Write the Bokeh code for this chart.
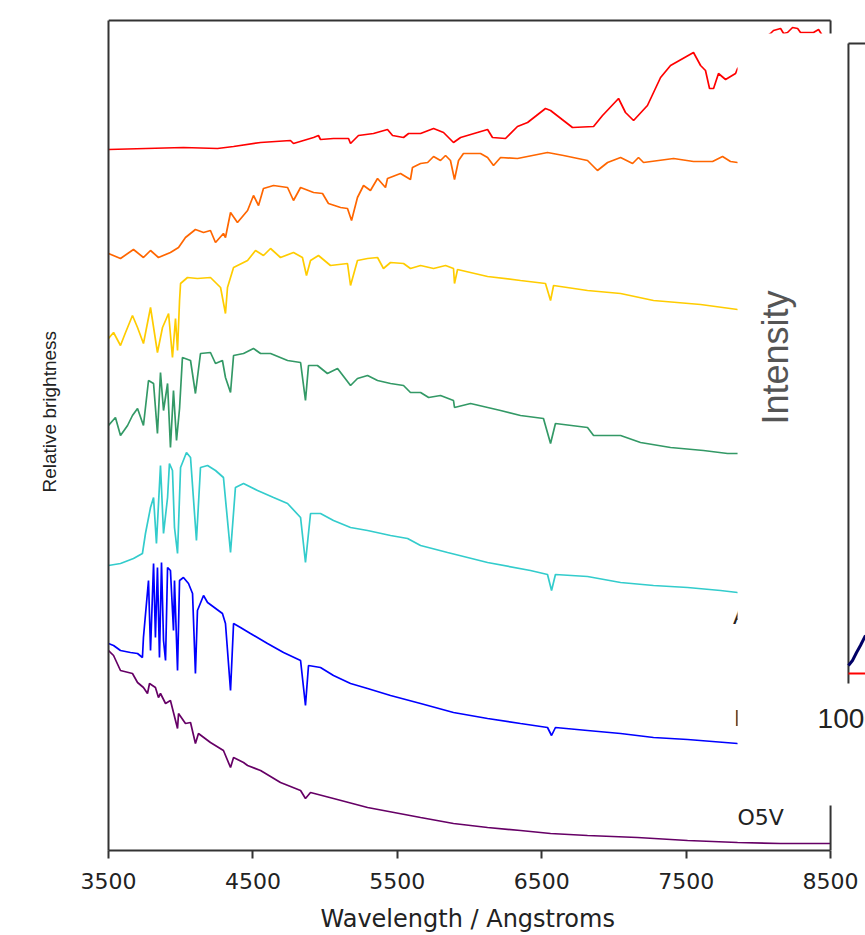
from bokeh.plotting import figure
from bokeh.models import FixedTicker, Range1d, Title
from bokeh.core.properties import value
from bokeh.embed import file_html
from bokeh.resources import INLINE

# ---------------- data: wavelength (Angstrom) / relative brightness ----------------
m_wl = [3500, 4019, 4255, 4366, 4553, 4760, 4781, 4920, 4954, 4968, 5058, 5162, 5176, 5231, 5335,
        5432, 5467, 5543, 5578, 5661, 5751, 5820, 5889, 5938, 6125, 6159, 6249, 6332, 6402, 6526,
        6561, 6713, 6859, 6921, 7032, 7080, 7136, 7232, 7323, 7392, 7551, 7600, 7634, 7662, 7690,
        7724, 7773, 7842, 7856, 7946, 8015, 8084, 8105, 8154, 8175, 8202, 8237, 8272, 8292, 8382,
        8417, 8465, 8500]
m_fl = [7.01, 7.03, 7.02, 7.04, 7.08, 7.10, 7.07, 7.13, 7.15, 7.11, 7.12, 7.12, 7.07, 7.15, 7.17,
        7.21, 7.15, 7.13, 7.17, 7.17, 7.22, 7.18, 7.08, 7.13, 7.21, 7.13, 7.12, 7.24, 7.28, 7.42,
        7.40, 7.23, 7.24, 7.35, 7.52, 7.38, 7.30, 7.45, 7.73, 7.85, 7.98, 7.85, 7.80, 7.62, 7.62,
        7.77, 7.71, 7.77, 7.82, 7.95, 8.10, 8.17, 8.20, 8.22, 8.17, 8.18, 8.23, 8.22, 8.18, 8.18,
        8.21, 8.10, 8.12]

k_wl = [3500, 3583, 3673, 3742, 3791, 3846, 3929, 3985, 4033, 4102, 4158, 4206, 4241, 4296, 4310,
        4345, 4393, 4463, 4504, 4539, 4573, 4643, 4740, 4781, 4830, 4920, 4982, 5023, 5107, 5155,
        5183, 5224, 5266, 5314, 5363, 5418, 5432, 5522, 5591, 5605, 5661, 5710, 5751, 5799, 5834,
        5868, 5896, 5924, 5958, 6076, 6125, 6166, 6215, 6332, 6540, 6651, 6817, 6886, 6956, 7046,
        7129, 7170, 7205, 7413, 7551, 7683, 7752, 7807, 7856, 8200, 8500]
k_fl = [5.97, 5.92, 6.01, 5.93, 6.00, 5.93, 5.98, 6.03, 6.13, 6.21, 6.18, 6.20, 6.08, 6.17, 6.13,
        6.38, 6.28, 6.40, 6.55, 6.45, 6.62, 6.65, 6.63, 6.50, 6.63, 6.58, 6.57, 6.47, 6.43, 6.42,
        6.30, 6.53, 6.65, 6.60, 6.72, 6.63, 6.72, 6.77, 6.71, 6.83, 6.87, 6.88, 6.94, 6.90, 6.95,
        6.90, 6.71, 6.90, 6.97, 6.97, 6.93, 6.85, 6.93, 6.92, 6.98, 6.95, 6.90, 6.80, 6.88, 6.93,
        6.87, 6.93, 6.88, 6.92, 6.89, 6.89, 6.94, 6.89, 6.88, 6.86, 6.85]

g_wl = [3500, 3535, 3583, 3618, 3666, 3701, 3742, 3791, 3839, 3874, 3916, 3943, 3964, 3978, 3992,
        3999, 4047, 4116, 4206, 4276, 4310, 4324, 4366, 4463, 4518, 4573, 4622, 4691, 4781, 4843,
        4871, 4899, 4954, 5037, 5155, 5176, 5224, 5294, 5363, 5404, 5453, 5543, 5591, 5661, 5751,
        5834, 5889, 5896, 5917, 6125, 6353, 6526, 6561, 6582, 6817, 7046, 7274, 7600, 7856, 8500]
g_fl = [5.12, 5.18, 5.05, 5.18, 5.35, 5.23, 5.07, 5.43, 4.98, 5.23, 5.37, 4.93, 5.32, 5.00, 5.50,
        5.67, 5.73, 5.72, 5.73, 5.63, 5.37, 5.63, 5.83, 5.90, 6.00, 5.95, 6.02, 5.93, 5.98, 5.93,
        5.75, 5.90, 5.95, 5.85, 5.87, 5.65, 5.90, 5.92, 5.93, 5.82, 5.88, 5.87, 5.82, 5.85, 5.82,
        5.85, 5.82, 5.67, 5.81, 5.74, 5.70, 5.67, 5.50, 5.65, 5.60, 5.57, 5.50, 5.46, 5.41, 5.33]

f_wl = [3500, 3548, 3583, 3632, 3666, 3701, 3742, 3777, 3812, 3839, 3860, 3881, 3909, 3929, 3950,
        3971, 3992, 4012, 4068, 4102, 4137, 4206, 4241, 4289, 4310, 4345, 4366, 4435, 4504, 4553,
        4622, 4740, 4830, 4864, 4885, 4947, 5016, 5086, 5176, 5224, 5294, 5363, 5453, 5543, 5591,
        5661, 5717, 5799, 5889, 5896, 6007, 6215, 6353, 6512, 6561, 6595, 6817, 6859, 7046, 7184,
        7392, 7620, 7787, 7856, 8500]
f_fl = [4.25, 4.33, 4.15, 4.25, 4.35, 4.42, 4.25, 4.70, 4.67, 4.17, 4.78, 4.40, 4.67, 4.03, 4.60,
        4.10, 4.42, 4.93, 4.90, 4.57, 4.97, 4.98, 4.87, 4.90, 4.73, 4.58, 4.95, 4.97, 5.02, 4.97,
        4.97, 4.90, 4.88, 4.50, 4.85, 4.85, 4.77, 4.82, 4.65, 4.72, 4.75, 4.70, 4.67, 4.65, 4.58,
        4.58, 4.53, 4.55, 4.50, 4.43, 4.47, 4.40, 4.35, 4.32, 4.07, 4.27, 4.23, 4.15, 4.15, 4.08,
        4.03, 4.00, 3.97, 3.97, 3.85]

a_wl = [3500, 3583, 3673, 3735, 3756, 3791, 3812, 3832, 3860, 3881, 3909, 3922, 3943, 3957, 3978,
        3999, 4040, 4068, 4109, 4137, 4186, 4241, 4296, 4345, 4379, 4435, 4532, 4643, 4740, 4830,
        4864, 4899, 4968, 5058, 5176, 5294, 5453, 5571, 5661, 5848, 6125, 6422, 6540, 6568, 6595,
        6817, 7046, 7274, 7510, 7738, 7856, 8500]
a_fl = [2.85, 2.87, 2.92, 2.97, 3.17, 3.43, 3.53, 3.07, 3.85, 3.17, 3.53, 3.87, 3.80, 3.23, 2.97,
        3.83, 3.98, 3.93, 3.10, 3.83, 3.85, 3.80, 3.73, 2.98, 3.63, 3.67, 3.60, 3.53, 3.47, 3.33,
        2.88, 3.37, 3.37, 3.30, 3.23, 3.20, 3.15, 3.12, 3.05, 2.98, 2.88, 2.80, 2.76, 2.60, 2.76,
        2.74, 2.68, 2.65, 2.63, 2.60, 2.58, 2.50]

b_wl = [3500, 3535, 3583, 3652, 3701, 3735, 3742, 3777, 3791, 3812, 3825, 3839, 3853, 3867, 3881,
        3895, 3909, 3929, 3950, 3957, 3978, 3992, 4019, 4054, 4082, 4102, 4116, 4158, 4186, 4289,
        4310, 4345, 4366, 4414, 4483, 4601, 4712, 4830, 4864, 4885, 4968, 5058, 5176, 5294, 5453,
        5661, 5889, 6125, 6353, 6540, 6568, 6595, 6817, 7046, 7274, 7510, 7856, 8500]
b_fl = [2.07, 2.05, 2.00, 1.98, 1.97, 1.93, 2.13, 2.70, 2.00, 2.87, 2.13, 2.83, 1.93, 2.88, 2.10,
        1.90, 2.83, 2.80, 2.20, 2.70, 1.80, 2.70, 2.73, 2.67, 2.57, 1.77, 2.40, 2.55, 2.48, 2.37,
        2.27, 1.60, 2.27, 2.23, 2.17, 2.07, 1.98, 1.90, 1.45, 1.85, 1.83, 1.75, 1.67, 1.62, 1.55,
        1.47, 1.38, 1.32, 1.27, 1.23, 1.15, 1.23, 1.20, 1.17, 1.13, 1.11, 1.07, 1.00]

o_wl = [3500, 3535, 3583, 3666, 3701, 3742, 3770, 3784, 3825, 3846, 3860, 3895, 3929, 3978, 3985,
        4033, 4068, 4102, 4123, 4206, 4296, 4345, 4366, 4435, 4463, 4553, 4691, 4830, 4864, 4899,
        5058, 5294, 5404, 5661, 5889, 6125, 6353, 6561, 6817, 7163, 7510, 7856, 8154, 8500]
o_fl = [2.00, 1.95, 1.80, 1.77, 1.68, 1.63, 1.57, 1.67, 1.63, 1.53, 1.57, 1.47, 1.50, 1.22, 1.37,
        1.27, 1.28, 1.07, 1.17, 1.08, 1.00, 0.83, 0.93, 0.88, 0.85, 0.80, 0.68, 0.60, 0.52, 0.58,
        0.52, 0.43, 0.40, 0.33, 0.27, 0.23, 0.20, 0.17, 0.15, 0.13, 0.10, 0.08, 0.07, 0.07]

spectra = [
    (m_wl, m_fl, "#ff0000"),
    (k_wl, k_fl, "#ff6600"),
    (g_wl, g_fl, "#ffcc00"),
    (f_wl, f_fl, "#339966"),
    (a_wl, a_fl, "#33cccc"),
    (b_wl, b_fl, "#0000ff"),
    (o_wl, o_fl, "#660066"),
]

x_ticks = [3500, 4500, 5500, 6500, 7500, 8500]
type_labels = ["A0V", "B0V", "O5V"]
type_label_x = [7825, 7832, 7856]
type_label_y = [2.34, 1.32, 0.33]

# overlapping second chart (its visible corner)
inset_curve_x = [8624, 8652, 8680, 8707, 8742]
inset_curve_y = [1.85, 1.90, 1.98, 2.05, 2.15]
inset_tick_label = "1000"

X0, X1, X_END = 3500, 8500, 8742
Y_TOP = 8.30

p = figure(frame_width=757, frame_height=834,
           min_border_left=108, min_border_right=0, min_border_top=16, min_border_bottom=85,
           x_range=Range1d(X0, X_END), y_range=Range1d(0, 8.34),
           output_backend="svg", toolbar_location=None)
p.outline_line_color = None
p.grid.visible = False
p.background_fill_color = "white"
p.border_fill_color = "white"

for wl, fl, col in spectra:
    p.line(wl, fl, line_color=col, line_width=1.7)

# frame borders top / right
p.segment(x0=[X0, X1], y0=[Y_TOP, Y_TOP], x1=[X1, X1], y1=[Y_TOP, 0],
          line_color="#333333", line_width=2)

p.text(x=type_label_x, y=type_label_y, text=type_labels, text_font=value("DejaVu Sans"),
       text_font_size="22px", text_color="#222222", text_baseline="middle", text_align="left")

# white panel of the overlapping chart
p.quad(left=[7856], right=[X_END + 50], bottom=[0.45], top=[8.17],
       fill_color="white", line_color=None)
p.segment(x0=[8624, 8624], y0=[8.07, 8.07], x1=[8624, X_END + 50], y1=[1.67, 8.07],
          line_color="#333333", line_width=2)
p.segment(x0=[8624], y0=[1.77], x1=[X_END + 50], y1=[1.77], line_color="#ff0000", line_width=2)
p.line(inset_curve_x, inset_curve_y, line_color="#000066", line_width=3)
p.text(x=[8120], y=[4.93], text=["Intensity"], angle=1.5708, text_font=value("Liberation Sans"),
       text_font_size="36px", text_color="#555555", text_align="center", text_baseline="middle")
p.text(x=[8410], y=[1.32], text=[inset_tick_label], text_font=value("Liberation Sans"),
       text_font_size="28px", text_color="#222222", text_align="left", text_baseline="middle")

xa = p.xaxis[0]
xa.ticker = FixedTicker(ticks=x_ticks)
xa.bounds = (X0, X1)
xa.axis_line_color = "#333333"
xa.axis_line_width = 2
xa.major_tick_line_color = "#333333"
xa.major_tick_line_width = 2
xa.major_tick_out = 8
xa.major_tick_in = 0
xa.minor_tick_out = 0
xa.minor_tick_in = 0
xa.major_label_text_font = "DejaVu Sans"
xa.major_label_text_font_size = "22px"
xa.major_label_text_color = "#222222"
xa.major_label_standoff = 14

ya = p.yaxis[0]
ya.ticker = FixedTicker(ticks=[4.0])   # one hidden tick: reserves room beside the axis
ya.bounds = (0, Y_TOP)
ya.axis_line_color = "#333333"
ya.axis_line_width = 2
ya.major_tick_out = 36
ya.major_tick_line_color = None
ya.major_tick_in = 0
ya.minor_tick_out = 0
ya.minor_tick_in = 0
ya.major_label_overrides = {4.0: ""}
ya.major_label_text_font_size = "12px"
ya.major_label_standoff = 0

# axis titles placed as in the original chart
p.add_layout(Title(text="Wavelength / Angstroms", align="left", offset=212, standoff=23,
                   text_font="DejaVu Sans", text_font_size="24px", text_font_style="normal",
                   text_color="#222222"), "below")
p.add_layout(Title(text="Relative brightness", align="left", offset=358, standoff=26,
                   text_font="Liberation Sans", text_font_size="19px", text_font_style="normal",
                   text_color="#222222"), "left")

open("out.html", "w").write(file_html(p, INLINE))
